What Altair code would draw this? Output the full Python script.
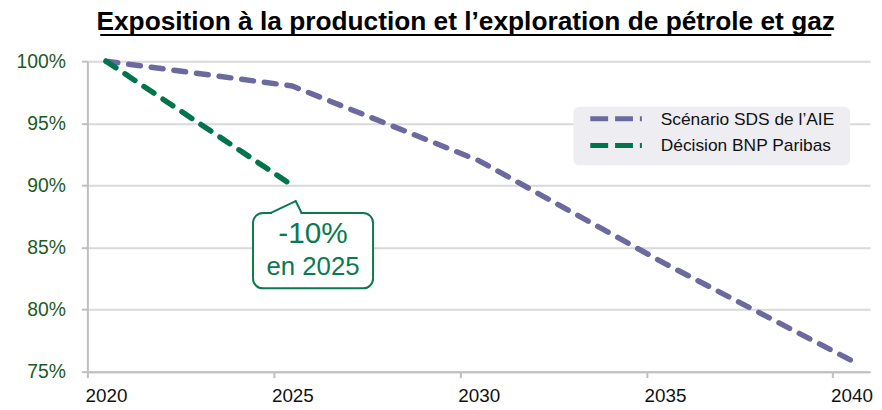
import altair as alt
import pandas as pd

TITLE = "Exposition à la production et l’exploration de pétrole et gaz"
SERIES = ["Scénario SDS de l’AIE", "Décision BNP Paribas"]
SDS_YEARS = [2020, 2025, 2030, 2035, 2040]
SDS_VALUES = [1.00, 0.980, 0.920, 0.837, 0.759]
BNP_YEARS = [2020, 2025]
BNP_VALUES = [1.00, 0.90]
X_TICK_YEARS = [2020, 2025, 2030, 2035, 2040]
Y_TICKS = [0.75, 0.80, 0.85, 0.90, 0.95, 1.00]
CALLOUT = ["-10%", "en 2025"]
COLORS = ["#6b699e", "#00744b"]

FONT = "Liberation Sans, Arial, sans-serif"
GREEN_TXT = "#0b7a4f"
W, H = 789, 313

df = pd.concat([
    pd.DataFrame({"year": SDS_YEARS, "value": SDS_VALUES, "series": SERIES[0]}),
    pd.DataFrame({"year": BNP_YEARS, "value": BNP_VALUES, "series": SERIES[1]}),
])

x_scale = alt.Scale(domain=[X_TICK_YEARS[0] - 0.5, X_TICK_YEARS[-1] + 0.5], nice=False, zero=False)
y_scale = alt.Scale(domain=[Y_TICKS[0], Y_TICKS[-1]], nice=False, zero=False)

lines = alt.Chart(df).mark_line(
    strokeWidth=5.5, strokeDash=[12, 11], strokeCap="round", strokeJoin="round"
).encode(
    x=alt.X("year:Q", scale=x_scale, axis=alt.Axis(
        values=[y - 0.5 for y in X_TICK_YEARS],
        labelExpr="format(datum.value + 0.5, 'd')",
        labelOffset=18.8, labelFlush=False, labelOverlap=False, labelBound=False,
        grid=False, tickSize=6, tickWidth=2, tickColor="#bfbfbf",
        domainColor="#bfbfbf", domainWidth=2,
        labelFont=FONT, labelFontSize=19, labelColor="#111111", labelPadding=9,
        labelAngle=0, title=None)),
    y=alt.Y("value:Q", scale=y_scale, axis=alt.Axis(
        values=Y_TICKS, format=".0%", grid=True, gridColor="#d9d9d9", gridWidth=2,
        tickSize=6, tickWidth=2, tickColor="#bfbfbf", domainColor="#bfbfbf", domainWidth=2,
        labelFont=FONT, labelFontSize=19.5, labelColor="#1e5b1e", labelPadding=16,
        labelFlush=False, labelOverlap=False, title=None)),
    color=alt.Color("series:N", scale=alt.Scale(domain=SERIES, range=COLORS), legend=None),
    order="year:Q",
)

one = pd.DataFrame({"k": [0]})

legend_box = alt.Chart(one).mark_rect(fill="#ededf2", cornerRadius=6).encode(
    x=alt.value(490), x2=alt.value(769), y=alt.value(46), y2=alt.value(105))

legend_layers = []
for i, (name, col) in enumerate(zip(SERIES, COLORS)):
    ypix = 58 + 27 * i
    legend_layers.append(alt.Chart(one).mark_rule(
        stroke=col, strokeWidth=5, strokeDash=[18, 7]).encode(
        x=alt.value(507), x2=alt.value(559), y=alt.value(ypix), y2=alt.value(ypix)))
    legend_layers.append(alt.Chart(pd.DataFrame({"t": [name]})).mark_text(
        font=FONT, fontSize=17.5, color="#111111", align="left", baseline="middle").encode(
        text="t:N", x=alt.value(578), y=alt.value(ypix + 1)))

callout_box = alt.Chart(one).mark_rect(
    fill="white", stroke=GREEN_TXT, strokeWidth=2, cornerRadius=10).encode(
    x=alt.value(167), x2=alt.value(288), y=alt.value(153), y2=alt.value(229))
cover = alt.Chart(one).mark_rule(stroke="white", strokeWidth=4).encode(
    x=alt.value(186), x2=alt.value(215), y=alt.value(153), y2=alt.value(153))
ptr1 = alt.Chart(one).mark_rule(stroke=GREEN_TXT, strokeWidth=2, strokeCap="round").encode(
    x=alt.value(185), x2=alt.value(210), y=alt.value(153), y2=alt.value(141))
ptr2 = alt.Chart(one).mark_rule(stroke=GREEN_TXT, strokeWidth=2, strokeCap="round").encode(
    x=alt.value(210), x2=alt.value(216), y=alt.value(141), y2=alt.value(153))

t1 = alt.Chart(pd.DataFrame({"t": [CALLOUT[0]]})).mark_text(
    font=FONT, fontSize=30, color=GREEN_TXT, align="center", baseline="middle").encode(
    text="t:N", x=alt.value(227.5), y=alt.value(174))
t2 = alt.Chart(pd.DataFrame({"t": [CALLOUT[1]]})).mark_text(
    font=FONT, fontSize=26, color=GREEN_TXT, align="center", baseline="middle").encode(
    text="t:N", x=alt.value(227.5), y=alt.value(208))

title = alt.Chart(pd.DataFrame({"t": [TITLE]})).mark_text(
    font=FONT, fontSize=26.5, fontWeight="bold", color="#000000", align="center",
    baseline="alphabetic").encode(text="t:N", x=alt.value(381.4), y=alt.value(-31.5))
underline = alt.Chart(one).mark_rule(stroke="#000000", strokeWidth=2).encode(
    x=alt.value(13), x2=alt.value(750), y=alt.value(-26.5), y2=alt.value(-26.5))

chart = alt.layer(
    legend_box, *legend_layers, callout_box, cover, ptr1, ptr2, t1, t2, lines, title, underline
).properties(
    width=W, height=H,
    autosize=alt.AutoSizeParams(type="none"),
    padding={"left": 80, "top": 52, "right": 4, "bottom": 37},
    background="white",
).configure_view(stroke=None)

chart.save("out.html", embed_options={"renderer": "svg", "actions": False})
